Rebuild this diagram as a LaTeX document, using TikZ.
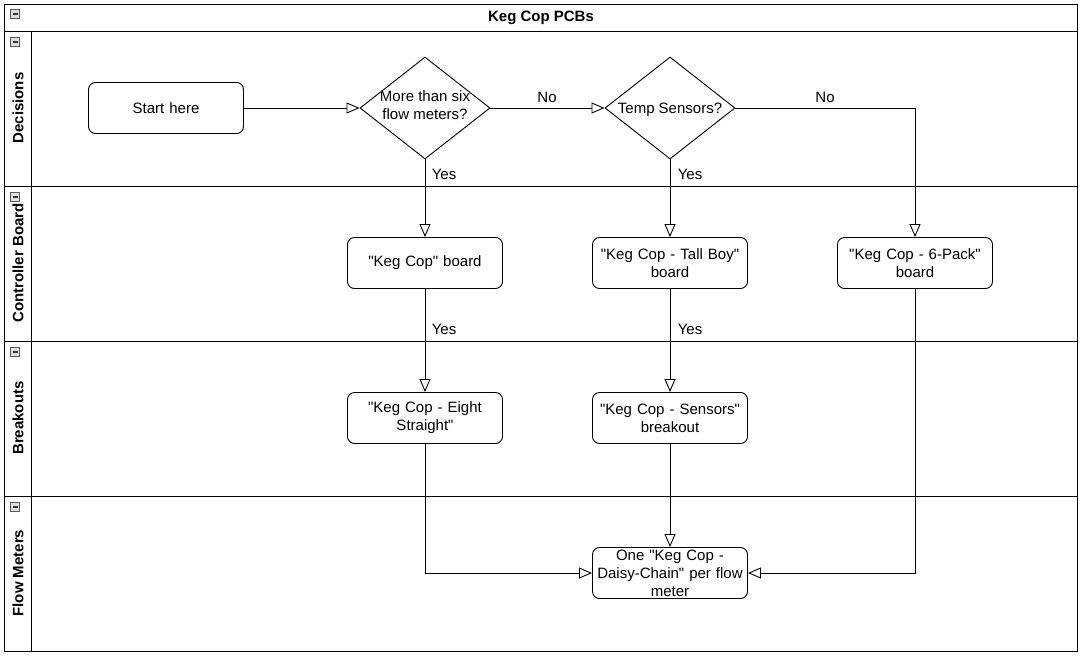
\documentclass[tikz,border=0pt]{standalone}
\usepackage{fontspec}
\setmainfont{Liberation Sans}[Ligatures=TeXOff]
\usetikzlibrary{arrows.meta,shapes.geometric}
\tikzset{
  x=1pt,y=-1pt,
  lane/.style={draw=black,line width=0.9pt},
  box/.style={draw=black,line width=0.9pt,rounded corners=7pt,minimum width=155pt,minimum height=51pt,inner sep=0pt,align=center,font=\fontsize{15}{18}\selectfont,text width=152pt},
  dec/.style={draw=black,line width=0.9pt,shape=diamond,minimum width=130pt,minimum height=102pt,inner sep=0pt},
  dectext/.style={align=center,font=\fontsize{15}{18}\selectfont,inner sep=0pt},
  conn/.style={draw=black,line width=0.9pt,-{Triangle[open,length=13pt,width=11pt]}},
  lbl/.style={font=\fontsize{15}{17}\selectfont,inner sep=0pt},
  lanetitle/.style={font=\bfseries\fontsize{15}{17}\selectfont,rotate=90,inner sep=0pt},
  mini/.style={draw=gray!70!black,line width=0.6pt,fill=gray!25,minimum size=9pt,inner sep=0pt},
}
\newcommand{\minusicon}[2]{%
  \node[mini] (#1) at (#2) {};
  \draw[line width=1.3pt,black!80] ([xshift=-2.5pt]#1.center) -- ([xshift=2.5pt]#1.center);
}
\begin{document}
\begin{tikzpicture}
\useasboundingbox (0,0) rectangle (1081,656);
\fill[white] (0,0) rectangle (1081,656);
% pool and lanes
\draw[lane] (4,4) rectangle (1077,651);
\draw[lane] (4,31) -- (1077,31);
\draw[lane] (31,31) -- (31,651);
\draw[lane] (4,186) -- (1077,186);
\draw[lane] (4,341) -- (1077,341);
\draw[lane] (4,496) -- (1077,496);
\node[font=\bfseries\fontsize{15}{17}\selectfont] (title) at (541,18) {Keg Cop PCBs};
\node[lanetitle] (l1) at (18,108) {Decisions};
\node[lanetitle] (l2) at (18,263) {Controller Board};
\node[lanetitle] (l3) at (18,418) {Breakouts};
\node[lanetitle] (l4) at (18,573) {Flow Meters};
\minusicon{m0}{15,14}
\minusicon{m1}{15,42}
\minusicon{m2}{15,197}
\minusicon{m3}{15,352}
\minusicon{m4}{15,507}
% nodes
\node[box] (start) at (166,108) {Start here};
\node[dec] (d1) at (425,108) {};
\node[dectext] (d1t) at (425,105) {More than six\\flow meters?};
\node[dec] (d2) at (670,108) {};
\node[dectext] (d2t) at (670,110) {Temp Sensors?};
\node[box] (kc) at (425,263) {"Keg Cop" board};
\node[box] (tb) at (670,263) {"Keg Cop - Tall Boy"\\board};
\node[box] (sp) at (915,263) {"Keg Cop - 6-Pack"\\board};
\node[box] (es) at (425,418) {"Keg Cop - Eight\\Straight"};
\node[box] (sb) at (670,418) {"Keg Cop - Sensors"\\breakout};
\node[box] (dc) at (670,573) {One "Keg Cop -\\Daisy-Chain" per flow\\meter};
% connectors
\draw[conn] (start.east) -- (d1.west);
\draw[conn] (d1.east) -- (d2.west);
\node[lbl] (no1) at (547,97) {No};
\draw[conn] (d2.east) -| (sp.north);
\node[lbl] (no2) at (825,97) {No};
\draw[conn] (d1.south) -- (kc.north);
\node[lbl] (y1) at (444,174) {Yes};
\draw[conn] (d2.south) -- (tb.north);
\node[lbl] (y2) at (690,174) {Yes};
\draw[conn] (kc.south) -- (es.north);
\node[lbl] (y3) at (444,329) {Yes};
\draw[conn] (tb.south) -- (sb.north);
\node[lbl] (y4) at (690,329) {Yes};
\draw[conn] (es.south) |- (dc.west);
\draw[conn] (sb.south) -- (dc.north);
\draw[conn] (sp.south) |- (dc.east);
\end{tikzpicture}
\end{document}
